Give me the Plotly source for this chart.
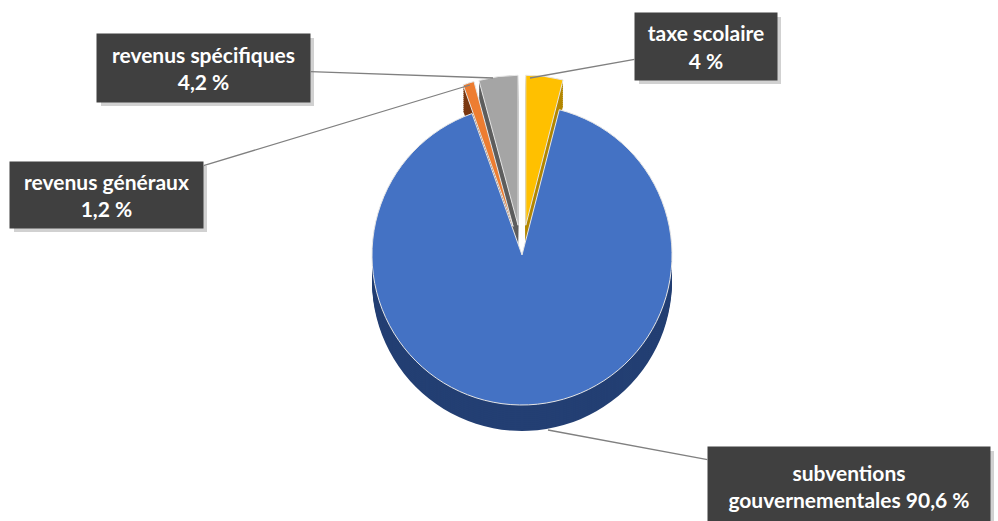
import plotly.graph_objects as go

# ---- data ----
categories = ["taxe scolaire", "subventions gouvernementales", "revenus généraux", "revenus spécifiques"]
values = [4.0, 90.6, 1.2, 4.2]
value_labels = ["4 %", "90,6 %", "1,2 %", "4,2 %"]

top_colors = ["#FFC000", "#4472C4", "#ED7D31", "#A5A5A5"]
side_colors = ["#B38700", "#233F73", "#7A3812", "#5E5E5E"]
pulls = [0.2, 0.0, 0.2, 0.2]

W, H = 998, 521
cx, cy = 522, 255      # pie centre (px)
r = 150                # radius (px)
depth = 26             # 3D thickness (px)

def domain(offset):
    half = r * (1 + max(pulls))
    return dict(
        x=[(cx - half) / W, (cx + half) / W],
        y=[1 - (cy + offset + half) / H, 1 - (cy + offset - half) / H],
    )

fig = go.Figure()

# extruded sides
for off in range(depth, 0, -2):
    fig.add_trace(go.Pie(
        labels=categories, values=values, sort=False, direction="clockwise",
        rotation=0, pull=pulls, domain=domain(off),
        marker=dict(colors=side_colors, line=dict(width=0)),
        textinfo="none", hoverinfo="skip", showlegend=False,
    ))

# top surface
fig.add_trace(go.Pie(
    labels=categories, values=values, sort=False, direction="clockwise",
    rotation=0, pull=pulls, domain=domain(0),
    marker=dict(colors=top_colors, line=dict(color="#E6E6E6", width=1)),
    textinfo="none", hoverinfo="skip", showlegend=False,
))

# labels (box centre px, box size px, tip px)
label_specs = [
    (0, (706, 46.5), (142, 67), (530, 78)),
    (1, (849, 486), (282, 78), (548, 430)),
    (2, (106.5, 195), (193, 66), (470, 85)),
    (3, (203.5, 68), (213, 68), (493, 78)),
]

annotations = []
shapes = []
for idx, (bx, by), (bw, bh), (tx, ty) in label_specs:
    name = categories[idx]
    if idx == 1:
        text = "<b>subventions</b><br><b>gouvernementales " + value_labels[idx] + "</b>"
    else:
        text = "<b>" + name + "</b><br><b>" + value_labels[idx] + "</b>"
    annotations.append(dict(
        x=tx / W, y=1 - ty / H, xref="paper", yref="paper",
        ax=bx - tx, ay=by - ty, axref="pixel", ayref="pixel",
        text=text, showarrow=True, arrowhead=0, arrowwidth=1.3, arrowcolor="#808080",
        bgcolor="#404040", borderpad=0, width=bw, height=bh,
        font=dict(family="Lato", size=21, color="white"), align="center", valign="middle",
    ))
    # soft drop shadow
    shapes.append(dict(
        type="rect", xref="paper", yref="paper", layer="below",
        x0=(bx - bw / 2 + 4) / W, x1=(bx + bw / 2 + 4) / W,
        y0=1 - (by + bh / 2 + 4) / H, y1=1 - (by - bh / 2 + 4) / H,
        fillcolor="rgba(0,0,0,0.18)", line=dict(width=0),
    ))

fig.update_layout(
    width=W, height=H, margin=dict(l=0, r=0, t=0, b=0),
    paper_bgcolor="white", plot_bgcolor="white",
    annotations=annotations, shapes=shapes,
)

fig.write_html("out.html")
